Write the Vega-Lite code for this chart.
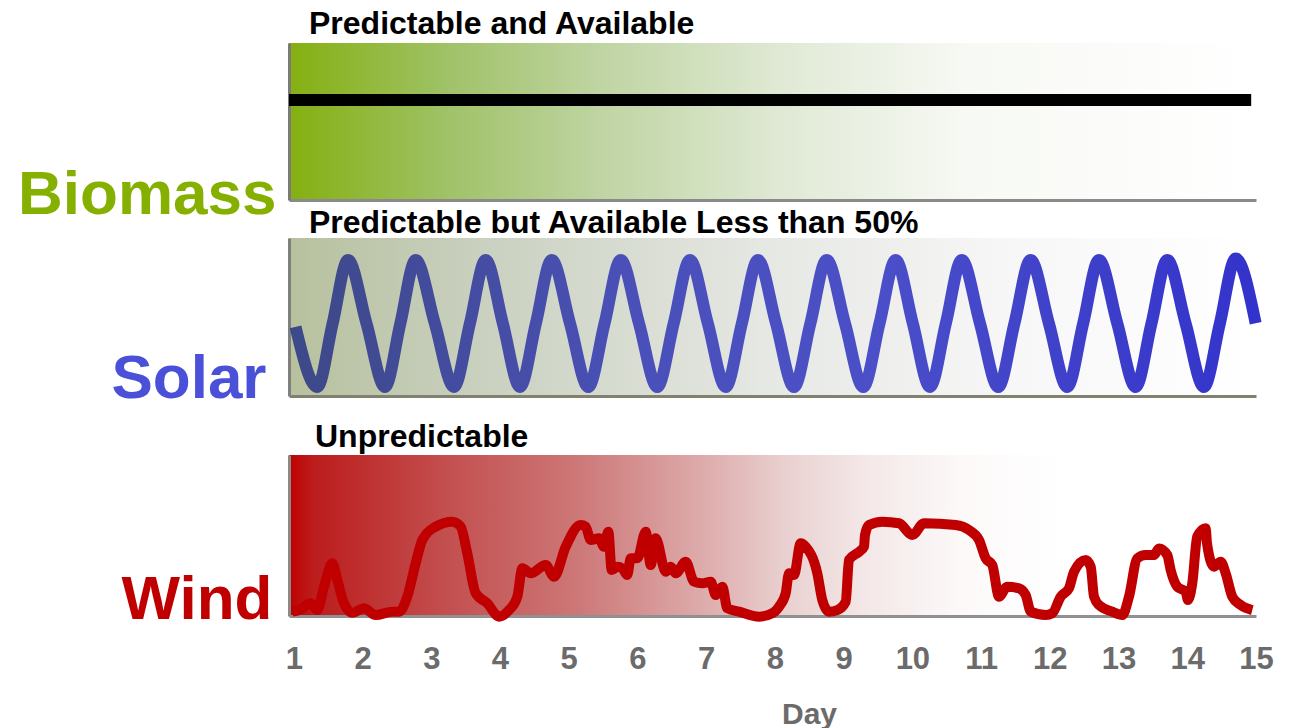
{
  "$schema": "https://vega.github.io/schema/vega-lite/v6.json",
  "background": "white",
  "padding": {"left": 17, "top": 8, "right": 10, "bottom": 5},
  "config": {
    "font": "Liberation Sans",
    "view": {"stroke": null},
    "axis": {"grid": false}
  },
  "datasets": {
    "biomass": [
      {"day": 0.93, "level": 0.637},
      {"day": 14.93, "level": 0.637}
    ],
    "solar": [
      {"day": 1.025, "output": 0.437},
      {"day": 1.342, "output": 0.057},
      {"day": 1.565, "output": 0.459},
      {"day": 1.788, "output": 0.861},
      {"day": 2.058, "output": 0.459},
      {"day": 2.327, "output": 0.057},
      {"day": 2.55, "output": 0.459},
      {"day": 2.773, "output": 0.861},
      {"day": 3.052, "output": 0.459},
      {"day": 3.331, "output": 0.057},
      {"day": 3.562, "output": 0.459},
      {"day": 3.792, "output": 0.861},
      {"day": 4.042, "output": 0.459},
      {"day": 4.291, "output": 0.057},
      {"day": 4.522, "output": 0.459},
      {"day": 4.752, "output": 0.861},
      {"day": 5.019, "output": 0.459},
      {"day": 5.285, "output": 0.057},
      {"day": 5.521, "output": 0.459},
      {"day": 5.756, "output": 0.861},
      {"day": 6.023, "output": 0.459},
      {"day": 6.289, "output": 0.057},
      {"day": 6.527, "output": 0.459},
      {"day": 6.764, "output": 0.861},
      {"day": 7.024, "output": 0.459},
      {"day": 7.284, "output": 0.057},
      {"day": 7.519, "output": 0.459},
      {"day": 7.754, "output": 0.861},
      {"day": 8.016, "output": 0.459},
      {"day": 8.278, "output": 0.057},
      {"day": 8.516, "output": 0.459},
      {"day": 8.753, "output": 0.861},
      {"day": 9.02, "output": 0.459},
      {"day": 9.286, "output": 0.057},
      {"day": 9.522, "output": 0.459},
      {"day": 9.757, "output": 0.861},
      {"day": 10.007, "output": 0.459},
      {"day": 10.256, "output": 0.057},
      {"day": 10.487, "output": 0.459},
      {"day": 10.718, "output": 0.861},
      {"day": 10.984, "output": 0.459},
      {"day": 11.25, "output": 0.057},
      {"day": 11.485, "output": 0.459},
      {"day": 11.72, "output": 0.861},
      {"day": 11.987, "output": 0.459},
      {"day": 12.254, "output": 0.057},
      {"day": 12.485, "output": 0.459},
      {"day": 12.715, "output": 0.861},
      {"day": 12.982, "output": 0.459},
      {"day": 13.249, "output": 0.057},
      {"day": 13.479, "output": 0.459},
      {"day": 13.709, "output": 0.861},
      {"day": 13.976, "output": 0.459},
      {"day": 14.243, "output": 0.057},
      {"day": 14.474, "output": 0.459},
      {"day": 14.704, "output": 0.87},
      {"day": 14.995, "output": 0.46}
    ],
    "wind": [
      {"day": 0.978, "output": 0.027},
      {"day": 1.076, "output": 0.037},
      {"day": 1.246, "output": 0.079},
      {"day": 1.342, "output": 0.037},
      {"day": 1.439, "output": 0.182},
      {"day": 1.56, "output": 0.327},
      {"day": 1.633, "output": 0.224},
      {"day": 1.73, "output": 0.079},
      {"day": 1.851, "output": 0.02},
      {"day": 2.021, "output": 0.048},
      {"day": 2.191, "output": 0.006},
      {"day": 2.433, "output": 0.027},
      {"day": 2.53, "output": 0.027},
      {"day": 2.651, "output": 0.12},
      {"day": 2.773, "output": 0.327},
      {"day": 2.87, "output": 0.472},
      {"day": 3.064, "output": 0.555},
      {"day": 3.306, "output": 0.586},
      {"day": 3.428, "output": 0.555},
      {"day": 3.524, "output": 0.389},
      {"day": 3.647, "output": 0.141},
      {"day": 3.815, "output": 0.079},
      {"day": 3.986, "output": -0.004},
      {"day": 4.131, "output": 0.037},
      {"day": 4.252, "output": 0.12},
      {"day": 4.325, "output": 0.296},
      {"day": 4.447, "output": 0.265},
      {"day": 4.665, "output": 0.317},
      {"day": 4.786, "output": 0.244},
      {"day": 4.956, "output": 0.43},
      {"day": 5.174, "output": 0.565},
      {"day": 5.247, "output": 0.555},
      {"day": 5.32, "output": 0.472},
      {"day": 5.441, "output": 0.483},
      {"day": 5.513, "output": 0.43},
      {"day": 5.576, "output": 0.524},
      {"day": 5.625, "output": 0.286},
      {"day": 5.707, "output": 0.306},
      {"day": 5.78, "output": 0.296},
      {"day": 5.852, "output": 0.255},
      {"day": 5.902, "output": 0.358},
      {"day": 5.998, "output": 0.358},
      {"day": 6.12, "output": 0.524},
      {"day": 6.193, "output": 0.317},
      {"day": 6.265, "output": 0.483},
      {"day": 6.411, "output": 0.275},
      {"day": 6.484, "output": 0.306},
      {"day": 6.557, "output": 0.265},
      {"day": 6.702, "output": 0.337},
      {"day": 6.823, "output": 0.213},
      {"day": 6.944, "output": 0.203},
      {"day": 7.066, "output": 0.213},
      {"day": 7.139, "output": 0.13},
      {"day": 7.235, "output": 0.182},
      {"day": 7.307, "output": 0.048},
      {"day": 7.478, "output": 0.027},
      {"day": 7.769, "output": -0.004},
      {"day": 7.962, "output": 0.017},
      {"day": 8.06, "output": 0.058},
      {"day": 8.157, "output": 0.141},
      {"day": 8.205, "output": 0.265},
      {"day": 8.278, "output": 0.255},
      {"day": 8.375, "output": 0.452},
      {"day": 8.448, "output": 0.43},
      {"day": 8.617, "output": 0.265},
      {"day": 8.69, "output": 0.099},
      {"day": 8.787, "output": 0.027},
      {"day": 8.908, "output": 0.037},
      {"day": 9.03, "output": 0.089},
      {"day": 9.078, "output": 0.348},
      {"day": 9.224, "output": 0.399},
      {"day": 9.296, "output": 0.43},
      {"day": 9.311, "output": 0.503},
      {"day": 9.369, "output": 0.565},
      {"day": 9.563, "output": 0.586},
      {"day": 9.805, "output": 0.576},
      {"day": 9.999, "output": 0.503},
      {"day": 10.169, "output": 0.576},
      {"day": 10.63, "output": 0.565},
      {"day": 10.824, "output": 0.534},
      {"day": 10.97, "output": 0.472},
      {"day": 11.067, "output": 0.358},
      {"day": 11.163, "output": 0.317},
      {"day": 11.261, "output": 0.12},
      {"day": 11.381, "output": 0.182},
      {"day": 11.552, "output": 0.172},
      {"day": 11.649, "output": 0.13},
      {"day": 11.722, "output": 0.027},
      {"day": 11.94, "output": 0.006},
      {"day": 12.036, "output": 0.017},
      {"day": 12.158, "output": 0.12},
      {"day": 12.279, "output": 0.172},
      {"day": 12.352, "output": 0.275},
      {"day": 12.522, "output": 0.348},
      {"day": 12.595, "output": 0.306},
      {"day": 12.643, "output": 0.12},
      {"day": 12.716, "output": 0.068},
      {"day": 12.909, "output": 0.027},
      {"day": 13.054, "output": 0.006},
      {"day": 13.152, "output": 0.12},
      {"day": 13.273, "output": 0.358},
      {"day": 13.395, "output": 0.379},
      {"day": 13.516, "output": 0.379},
      {"day": 13.588, "output": 0.42},
      {"day": 13.709, "output": 0.379},
      {"day": 13.758, "output": 0.286},
      {"day": 13.855, "output": 0.182},
      {"day": 13.977, "output": 0.151},
      {"day": 14.01, "output": 0.099},
      {"day": 14.073, "output": 0.203},
      {"day": 14.145, "output": 0.493},
      {"day": 14.268, "output": 0.545},
      {"day": 14.287, "output": 0.452},
      {"day": 14.388, "output": 0.306},
      {"day": 14.486, "output": 0.337},
      {"day": 14.559, "output": 0.265},
      {"day": 14.655, "output": 0.12},
      {"day": 14.777, "output": 0.068},
      {"day": 14.946, "output": 0.037}
    ]
  },
  "spacing": 10,
  "vconcat": [
    {
      "spacing": 38,
      "bounds": "flush",
      "vconcat": [
        {
          "width": 967,
          "height": 157,
          "view": {
            "stroke": null,
            "fill": {
              "gradient": "linear", "x1": 0, "y1": 0, "x2": 1, "y2": 0,
              "stops": [
                {"offset": 0, "color": "#84b010"},
                {"offset": 0.165, "color": "#a0c268"},
                {"offset": 0.32, "color": "#bfd4a2"},
                {"offset": 0.51, "color": "#e0e9d5"},
                {"offset": 0.7, "color": "#f7f9f4"},
                {"offset": 1, "color": "#ffffff"}
              ]
            }
          },
          "title": {
            "text": "Predictable and Available",
            "anchor": "start", "frame": "group", "dx": 20, "offset": -23,
            "baseline": "alphabetic",
            "font": "Liberation Sans", "fontSize": 32, "fontWeight": "bold", "color": "#000000"
          },
          "data": {"name": "biomass"},
          "mark": {"type": "line", "color": "#000000", "strokeWidth": 12, "strokeCap": "butt"},
          "encoding": {
            "x": {
              "field": "day", "type": "quantitative",
              "scale": {"domain": [0.93, 15], "nice": false, "zero": false},
              "axis": {"labels": false, "ticks": false, "title": null, "domainColor": "#8a8a8a", "domainWidth": 3}
            },
            "y": {
              "field": "level", "type": "quantitative",
              "scale": {"domain": [0, 1], "nice": false},
              "axis": {
                "labels": false, "ticks": false, "domainColor": "#7a7a7a", "domainWidth": 3,
                "title": "Biomass", "titleAngle": 0, "titleAlign": "right", "titleBaseline": "alphabetic",
                "titleX": -13, "titleY": 170, "titleFontSize": 62, "titleFontWeight": "bold",
                "titleFont": "Liberation Sans", "titleColor": "#86b000"
              }
            }
          }
        },
        {
          "width": 967,
          "height": 158,
          "view": {
            "stroke": null,
            "fill": {
              "gradient": "linear", "x1": 0, "y1": 0, "x2": 1, "y2": 0,
              "stops": [
                {"offset": 0, "color": "#b7c19d"},
                {"offset": 0.165, "color": "#c6cebb"},
                {"offset": 0.32, "color": "#d5dace"},
                {"offset": 0.51, "color": "#e7e9e5"},
                {"offset": 0.75, "color": "#f7f7f7"},
                {"offset": 1, "color": "#ffffff"}
              ]
            }
          },
          "title": {
            "text": "Predictable but Available Less than 50%",
            "anchor": "start", "frame": "group", "dx": 20, "offset": -30,
            "baseline": "alphabetic",
            "font": "Liberation Sans", "fontSize": 32, "fontWeight": "bold", "color": "#000000"
          },
          "data": {"name": "solar"},
          "mark": {
            "type": "line", "interpolate": "monotone", "strokeWidth": 12, "strokeCap": "butt",
            "stroke": {
              "gradient": "linear", "x1": 0, "y1": 0, "x2": 1, "y2": 0,
              "stops": [
                {"offset": 0, "color": "#3d4988"},
                {"offset": 0.35, "color": "#4a50b8"},
                {"offset": 0.6, "color": "#4b4fc8"},
                {"offset": 1, "color": "#3333cc"}
              ]
            }
          },
          "encoding": {
            "x": {
              "field": "day", "type": "quantitative",
              "scale": {"domain": [0.93, 15], "nice": false, "zero": false},
              "axis": {"labels": false, "ticks": false, "title": null, "domainColor": "#80816f", "domainWidth": 3}
            },
            "y": {
              "field": "output", "type": "quantitative",
              "scale": {"domain": [0, 1], "nice": false},
              "axis": {
                "labels": false, "ticks": false, "domainColor": "#808080", "domainWidth": 3,
                "title": "Solar", "titleAngle": 0, "titleAlign": "right", "titleBaseline": "alphabetic",
                "titleX": -23, "titleY": 159, "titleFontSize": 62, "titleFontWeight": "bold",
                "titleFont": "Liberation Sans", "titleColor": "#4b50d8"
              }
            }
          }
        }
      ]
    },
    {
      "width": 967,
      "height": 161,
      "view": {
        "stroke": null,
        "fill": {
          "gradient": "linear", "x1": 0, "y1": 0, "x2": 1, "y2": 0,
          "stops": [
            {"offset": 0, "color": "#c00000"},
            {"offset": 0.024, "color": "#bc1c1c"},
            {"offset": 0.16, "color": "#c34e4e"},
            {"offset": 0.3, "color": "#cd7878"},
            {"offset": 0.44, "color": "#dfb0b0"},
            {"offset": 0.51, "color": "#e9cfcf"},
            {"offset": 0.59, "color": "#f3e6e6"},
            {"offset": 0.69, "color": "#fcf8f8"},
            {"offset": 0.8, "color": "#ffffff"},
            {"offset": 1, "color": "#ffffff"}
          ]
        }
      },
      "title": {
        "text": "Unpredictable",
        "anchor": "start", "frame": "group", "dx": 26, "offset": -24,
        "baseline": "alphabetic",
        "font": "Liberation Sans", "fontSize": 32, "fontWeight": "bold", "color": "#000000"
      },
      "data": {"name": "wind"},
      "mark": {"type": "line", "interpolate": "monotone", "color": "#c00000", "strokeWidth": 10, "strokeCap": "butt"},
      "encoding": {
        "x": {
          "field": "day", "type": "quantitative",
          "scale": {"domain": [0.93, 15], "nice": false, "zero": false},
          "axis": {
            "values": [1, 2, 3, 4, 5, 6, 7, 8, 9, 10, 11, 12, 13, 14, 15], "format": "d",
            "ticks": false, "domainColor": "#909090", "domainWidth": 3,
            "labelFlush": false, "labelOverlap": false, "labelBound": false,
            "labelFont": "Liberation Sans", "labelFontSize": 31, "labelFontWeight": "bold", "labelColor": "#6b6b6b",
            "labelPadding": 28, "labelBaseline": "top",
            "title": "Day", "titleFont": "Liberation Sans", "titleFontSize": 30, "titleFontWeight": "bold",
            "titleColor": "#6b6b6b", "titleX": 520, "titleY": 107, "titleAlign": "center", "titleBaseline": "alphabetic"
          }
        },
        "y": {
          "field": "output", "type": "quantitative",
          "scale": {"domain": [0, 1], "nice": false},
          "axis": {
            "labels": false, "ticks": false, "domainColor": "#8a8a8a", "domainWidth": 3,
            "title": "Wind", "titleAngle": 0, "titleAlign": "right", "titleBaseline": "alphabetic",
            "titleX": -17, "titleY": 163, "titleFontSize": 62, "titleFontWeight": "bold",
            "titleFont": "Liberation Sans", "titleColor": "#c00000"
          }
        }
      }
    }
  ]
}
